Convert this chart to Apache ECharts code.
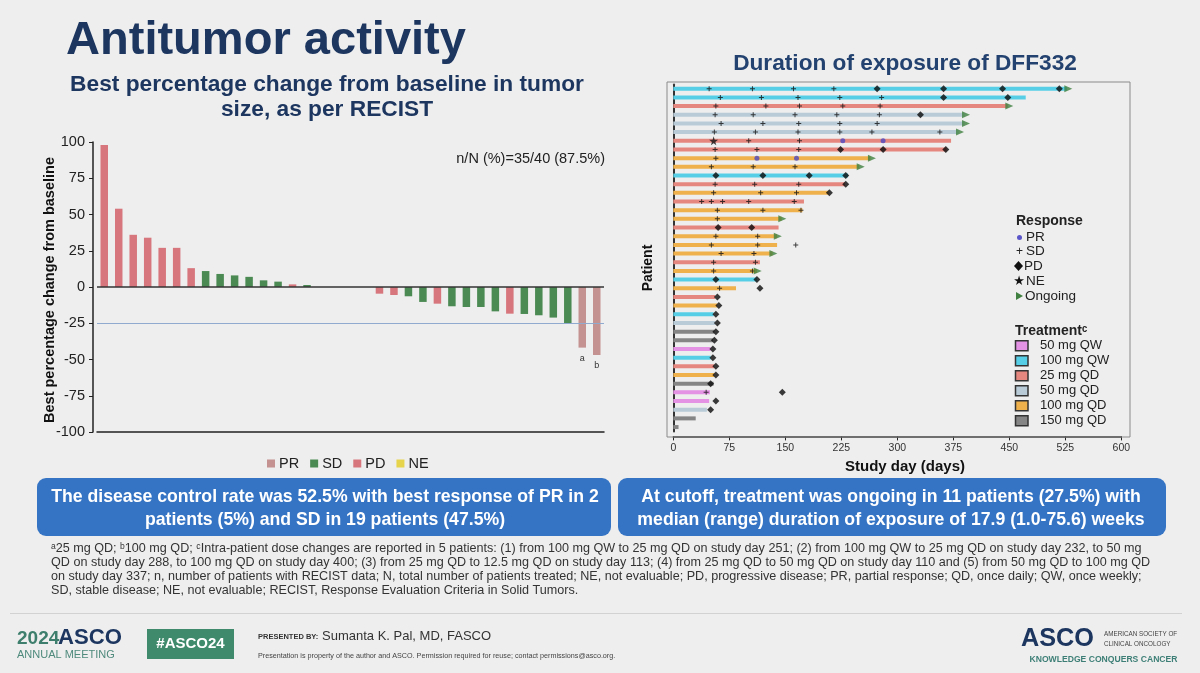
<!DOCTYPE html>
<html><head><meta charset="utf-8">
<script src="https://cdn.jsdelivr.net/npm/echarts@6/dist/echarts.min.js"></script>
<style>html,body{margin:0;padding:0;background:#eeeeee;}#c{width:1200px;height:673px;}</style>
</head><body><div id="c"></div>
<script>
// ---------- Waterfall (best % change) ----------
const wfValues = [98, 54, 36, 34, 27, 27, 13, 11, 9, 8, 7, 4.6, 3.7, 1.8, 1.4, 0, 0, 0, 0,
  -4.6, -5.5, -6.4, -10.3, -11.5, -13.3, -13.8, -13.8, -16.8, -18.4, -18.6, -19.5, -21.1, -25.1, -41.8, -46.9];
const wfResponse = ['PD','PD','PD','PD','PD','PD','PD','SD','SD','SD','SD','SD','SD','PD','SD','SD','SD','PD','PD',
  'PD','PD','SD','SD','PD','SD','SD','SD','SD','PD','SD','SD','SD','SD','PR','PR'];
const wfNotes = ['','','','','','','','','','','','','','','','','','','','','','','','','','','','','','','','','','a','b'];
const wfCategories = wfValues.map((v, i) => 'P' + (i + 1));
const responseTypes = ['PR', 'SD', 'PD', 'NE'];
const yTicks = [-100, -75, -50, -25, 0, 25, 50, 75, 100];

// ---------- Duration of exposure ----------
const treatNames = ['50 mg QW', '100 mg QW', '25 mg QD', '50 mg QD', '100 mg QD', '150 mg QD'];
const rowTreat = ['100 mg QW','100 mg QW','25 mg QD','50 mg QD','50 mg QD','50 mg QD','25 mg QD','25 mg QD',
  '100 mg QD','100 mg QD','100 mg QW','25 mg QD','100 mg QD','25 mg QD','100 mg QD','100 mg QD','25 mg QD',
  '100 mg QD','100 mg QD','100 mg QD','25 mg QD','100 mg QD','100 mg QW','100 mg QD','25 mg QD','100 mg QD',
  '100 mg QW','50 mg QD','150 mg QD','150 mg QD','50 mg QW','100 mg QW','25 mg QD','100 mg QD','150 mg QD',
  '50 mg QW','50 mg QW','50 mg QD','150 mg QD','150 mg QD'];
const durEnd = [527, 472, 448, 390, 390, 382, 372, 366, 264, 249, 234, 230, 208, 175, 173, 145, 141, 139, 139, 133,
  116, 112, 112, 84, 56, 59, 54, 56, 55, 53, 50, 50, 55, 55, 54, 49, 48, 45, 30, 7];
// [patient row, study day]
const sdMarks = [[1,48],[1,106],[1,161],[1,215],[2,63],[2,118],[2,167],[2,223],[2,279],
  [3,57],[3,124],[3,169],[3,227],[3,277],[4,56],[4,107],[4,163],[4,219],[4,276],
  [5,64],[5,120],[5,168],[5,223],[5,273],[6,55],[6,110],[6,167],[6,223],[6,266],[6,357],
  [7,101],[7,169],[8,56],[8,112],[8,168],[9,57],[10,51],[10,107],[10,163],
  [12,56],[12,109],[12,168],[13,54],[13,117],[13,165],[14,38],[14,51],[14,66],[14,101],[14,162],
  [15,59],[15,120],[15,171],[16,59],[18,57],[18,113],[19,51],[19,113],[19,164],
  [20,64],[20,108],[21,54],[21,110],[22,54],[22,106],[24,62],[36,44]];
const pdMarks = [[1,273],[1,362],[1,441],[1,517],[2,362],[2,448],[4,331],[8,224],[8,281],[8,365],
  [11,57],[11,120],[11,182],[11,231],[12,231],[13,209],[17,60],[17,105],[23,57],[23,112],[24,116],
  [25,59],[26,61],[27,57],[28,59],[29,57],[30,55],[31,53],[32,53],[33,57],[34,57],[35,50],
  [36,146],[37,57],[38,50]];
const prMarks = [[7,227],[7,281],[9,112],[9,165]];
const neMarks = [[7,54]];
const ongoingMarks = [[1,529],[3,450],[4,392],[5,392],[6,384],[9,266],[10,251],[16,146],[18,140],[20,134],[22,113]];
const dayTicks = [0, 75, 150, 225, 300, 375, 450, 525, 600];
const rowNames = durEnd.map((v, i) => 'Pt' + (i + 1));

// ---------- styles ----------
const respColors = { PR: '#c49291', SD: '#4b8b53', PD: '#d7767c', NE: '#e6d44c' };
const treatColors = { '50 mg QW': '#e392e4', '100 mg QW': '#56cfe6', '25 mg QD': '#e6877f',
  '50 mg QD': '#b9cbd7', '100 mg QD': '#eeb14c', '150 mg QD': '#858585' };
const ff = "'Liberation Sans', Arial, sans-serif";
const navy = '#1c3660';
const mctx = document.createElement('canvas').getContext('2d');
function fitSize(text, weight, family, width) {
  mctx.font = weight + ' 100px ' + family;
  return 100 * width / mctx.measureText(text).width;
}
function txt(x, y, text, size, o) {
  o = o || {};
  const al = o.align || 'left', va = o.valign || 'middle';
  return { type: 'text', x: x, y: y, rotation: o.rotation || 0, silent: true, z: 10,
    style: { text: text, fill: o.color || '#222', fontSize: size, fontWeight: o.weight || 'normal',
      fontFamily: o.family || ff, align: al, textAlign: al, verticalAlign: va, textVerticalAlign: va } };
}
const toXY = arr => arr.map(d => [d[1], d[0] - 1]);

const titleSize = fitSize('Antitumor activity', 'bold', ff, 400);
const subSize = fitSize('Best percentage change from baseline in tumor', 'bold', ff, 514);
const rtSize = fitSize('Duration of exposure of DFF332', 'bold', ff, 344);
const boxFam = "'Liberation Sans Narrow', 'Liberation Sans', Arial, sans-serif";
const boxSize = fitSize('The disease control rate was 52.5% with best response of PR in 2', 'bold', boxFam, 548);
const foot = [
  '\u1d4325 mg QD; \u1d47100 mg QD; \u1d9cIntra-patient dose changes are reported in 5 patients: (1) from 100 mg QW to 25 mg QD on study day 251; (2) from 100 mg QW to 25 mg QD on study day 232, to 50 mg',
  'QD on study day 288, to 100 mg QD on study day 400; (3) from 25 mg QD to 12.5 mg QD on study day 113; (4) from 25 mg QD to 50 mg QD on study day 110 and (5) from 50 mg QD to 100 mg QD',
  'on study day 337; n, number of patients with RECIST data; N, total number of patients treated; NE, not evaluable; PD, progressive disease; PR, partial response; QD, once daily; QW, once weekly;',
  'SD, stable disease; NE, not evaluable; RECIST, Response Evaluation Criteria in Solid Tumors.'];
const footSize = fitSize(foot[1], 'normal', ff, 1100);
const ascoBig = fitSize('ASCO', 'bold', ff, 73);
const ascoSmall = fitSize('ASCO', 'bold', ff, 64);

const g = [];
// header texts
g.push(txt(66, 41.5, 'Antitumor activity', titleSize, { weight: 'bold', color: navy }));
g.push(txt(327, 85, 'Best percentage change from baseline in tumor', subSize, { weight: 'bold', color: navy, align: 'center' }));
g.push(txt(327, 110, 'size, as per RECIST', subSize, { weight: 'bold', color: navy, align: 'center' }));
g.push(txt(905, 64, 'Duration of exposure of DFF332', rtSize, { weight: 'bold', color: '#24426f', align: 'center' }));
g.push(txt(605, 159, 'n/N (%)=35/40 (87.5%)', 14.5, { align: 'right', color: '#222' }));
g.push(txt(50, 290, 'Best percentage change from baseline', 14.5, { weight: 'bold', align: 'center', rotation: Math.PI / 2, color: '#111' }));
g.push(txt(648, 268, 'Patient', 14, { weight: 'bold', align: 'center', rotation: Math.PI / 2, color: '#111' }));
g.push(txt(905, 467, 'Study day (days)', 15, { weight: 'bold', align: 'center', color: '#111' }));
// right frame
g.push({ type: 'rect', silent: true, z: 1, shape: { x: 667, y: 82, width: 463, height: 355 }, style: { fill: 'none', stroke: '#8a8a8a', lineWidth: 1 } });
// response legend
g.push(txt(1016, 221, 'Response', 14, { weight: 'bold', color: '#222' }));
g.push({ type: 'circle', silent: true, z: 10, shape: { cx: 1019.5, cy: 237.5, r: 2.5 }, style: { fill: '#5a55c8' } });
g.push(txt(1026, 237.5, 'PR', 13.5));
g.push(txt(1019.5, 251.5, '+', 12, { align: 'center' }));
g.push(txt(1026, 251.5, 'SD', 13.5));
g.push({ type: 'polygon', silent: true, z: 10, shape: { points: [[1018.5, 261], [1023, 266], [1018.5, 271], [1014, 266]] }, style: { fill: '#111' } });
g.push(txt(1024, 266, 'PD', 13.5));
g.push(txt(1019, 281.5, '\u2605', 13, { align: 'center', color: '#111', family: 'DejaVu Sans' }));
g.push(txt(1026, 281.5, 'NE', 13.5));
g.push({ type: 'polygon', silent: true, z: 10, shape: { points: [[1016, 292], [1023, 296], [1016, 300]] }, style: { fill: '#3f7f3f' } });
g.push(txt(1025, 296, 'Ongoing', 13.5));
g.push(txt(1015, 331, 'Treatment\u1d9c', 14, { weight: 'bold', color: '#222' }));
treatNames.forEach((n, i) => {
  const cy = 345.7 + i * 15;
  g.push({ type: 'rect', silent: true, z: 10, shape: { x: 1015.5, y: cy - 5, width: 12.5, height: 10 }, style: { fill: treatColors[n], stroke: '#333', lineWidth: 1.5 } });
  g.push(txt(1040, cy, n, 13, { color: '#222' }));
});
// blue boxes
g.push({ type: 'rect', silent: true, z: 5, shape: { x: 37, y: 478, width: 574, height: 58, r: 9 }, style: { fill: '#3574c4' } });
g.push({ type: 'rect', silent: true, z: 5, shape: { x: 618, y: 478, width: 548, height: 58, r: 9 }, style: { fill: '#3574c4' } });
g.push(txt(325, 497, 'The disease control rate was 52.5% with best response of PR in 2', boxSize, { weight: 'bold', color: '#fff', align: 'center', family: boxFam }));
g.push(txt(325, 520, 'patients (5%) and SD in 19 patients (47.5%)', boxSize, { weight: 'bold', color: '#fff', align: 'center', family: boxFam }));
g.push(txt(891, 497, 'At cutoff, treatment was ongoing in 11 patients (27.5%) with', boxSize, { weight: 'bold', color: '#fff', align: 'center', family: boxFam }));
g.push(txt(891, 520, 'median (range) duration of exposure of 17.9 (1.0-75.6) weeks', boxSize, { weight: 'bold', color: '#fff', align: 'center', family: boxFam }));
// footnotes
foot.forEach((l, i) => g.push(txt(51, 549 + i * 14, l, footSize, { color: '#333' })));
// bottom bar
g.push({ type: 'line', silent: true, shape: { x1: 10, y1: 613.5, x2: 1182, y2: 613.5 }, style: { stroke: '#d2d2d2', lineWidth: 1 } });
g.push(txt(17, 639, '2024', 19, { color: '#3d7f6c', weight: 'bold', family: "'Liberation Sans Narrow','Liberation Sans',sans-serif" }));
g.push(txt(58, 638, 'ASCO', ascoSmall, { color: navy, weight: 'bold' }));
g.push(txt(17, 655, 'ANNUAL MEETING', 11, { color: '#4f8a7c', family: "'Liberation Sans Narrow','Liberation Sans',sans-serif" }));
g.push({ type: 'rect', silent: true, shape: { x: 147, y: 629, width: 87, height: 30 }, style: { fill: '#3f8a6c' } });
g.push(txt(190.5, 644, '#ASCO24', 15, { color: '#fff', weight: 'bold', align: 'center' }));
g.push(txt(258, 637, 'PRESENTED BY:', 7.5, { color: '#333', weight: 'bold' }));
g.push(txt(322, 636, 'Sumanta K. Pal, MD, FASCO', 13, { color: '#333', family: "'Liberation Sans Narrow','Liberation Sans',sans-serif" }));
g.push(txt(258, 656, 'Presentation is property of the author and ASCO. Permission required for reuse; contact permissions@asco.org.', 7.2, { color: '#444' }));
g.push(txt(1021, 639, 'ASCO', ascoBig, { color: navy, weight: 'bold' }));
g.push(txt(1104, 634, 'AMERICAN SOCIETY OF', 6.3, { color: '#444' }));
g.push(txt(1104, 644, 'CLINICAL ONCOLOGY', 6.3, { color: '#444' }));
g.push(txt(1103.5, 660, 'KNOWLEDGE CONQUERS CANCER', 8.6, { color: '#3d7f76', weight: 'bold', align: 'center' }));

// ---------- series ----------
const series = responseTypes.map((r, k) => ({
  name: r, type: 'bar', xAxisIndex: 0, yAxisIndex: 0, barWidth: 7.5, barGap: '-100%',
  itemStyle: { color: respColors[r] },
  data: wfValues.map((v, i) => wfResponse[i] === r ? v : '-'),
  label: r === 'PR' ? { show: true, position: 'bottom', distance: 6, fontSize: 9, color: '#333', fontFamily: ff,
    formatter: p => wfNotes[p.dataIndex] } : { show: false },
  markLine: k === 0 ? { silent: true, symbol: 'none', label: { show: false },
    data: [{ yAxis: 0, lineStyle: { color: '#333', width: 1.5, type: 'solid' } },
           { yAxis: -25, lineStyle: { color: '#8fa9cf', width: 1, type: 'solid' } }] } : undefined
}));
series.push({
  name: 'exposure', type: 'bar', xAxisIndex: 1, yAxisIndex: 1, barWidth: 4, silent: true,
  data: durEnd.map((v, i) => ({ value: v, itemStyle: { color: treatColors[rowTreat[i]] } }))
});
const plusPath = 'path://M4,0H6V4H10V6H6V10H4V6H0V4H4Z';
const starPath = 'path://M50,0L61,35H98L68,57L79,91L50,70L21,91L32,57L2,35H39Z';
series.push({ name: 'SD mark', type: 'scatter', xAxisIndex: 1, yAxisIndex: 1, z: 4, symbol: plusPath, symbolSize: 5, itemStyle: { color: '#111' }, data: toXY(sdMarks) });
series.push({ name: 'PD mark', type: 'scatter', xAxisIndex: 1, yAxisIndex: 1, z: 4, symbol: 'diamond', symbolSize: 7, itemStyle: { color: '#0a0a0a' }, data: toXY(pdMarks) });
series.push({ name: 'PR mark', type: 'scatter', xAxisIndex: 1, yAxisIndex: 1, z: 4, symbol: 'circle', symbolSize: 5, itemStyle: { color: '#4d48c0' }, data: toXY(prMarks) });
series.push({ name: 'NE mark', type: 'scatter', xAxisIndex: 1, yAxisIndex: 1, z: 4, symbol: starPath, symbolSize: 9, itemStyle: { color: '#111' }, data: toXY(neMarks) });
series.push({ name: 'Ongoing', type: 'scatter', xAxisIndex: 1, yAxisIndex: 1, z: 4, symbol: 'triangle', symbolRotate: -90, symbolSize: [7, 8], itemStyle: { color: '#3f7f3f' }, data: toXY(ongoingMarks) });

const option = {
  backgroundColor: '#eeeeee',
  animation: false,
  textStyle: { fontFamily: ff },
  legend: { data: responseTypes, left: 262, top: 451, itemWidth: 8, itemHeight: 8, itemGap: 11, icon: 'rect',
    textStyle: { fontSize: 14.5, color: '#222', padding: [0, 0, 0, -1] } },
  grid: [
    { left: 97, top: 142, width: 507, height: 290 },
    { left: 673.3, top: 84.4, width: 448, height: 347 }
  ],
  xAxis: [
    { gridIndex: 0, type: 'category', data: wfCategories, axisLine: { onZero: false, lineStyle: { color: '#222', width: 1.5 } },
      axisTick: { show: false }, axisLabel: { show: false } },
    { gridIndex: 1, type: 'value', min: dayTicks[0], max: dayTicks[dayTicks.length - 1], interval: 75, offset: 5,
      axisLine: { show: true, lineStyle: { color: '#222', width: 1.5 } },
      axisTick: { show: true, length: 4, lineStyle: { color: '#222' } },
      axisLabel: { fontSize: 10.5, color: '#333', margin: 6 }, splitLine: { show: false } }
  ],
  yAxis: [
    { gridIndex: 0, type: 'value', min: yTicks[0], max: yTicks[yTicks.length - 1], interval: 25, offset: 4,
      axisLine: { show: true, lineStyle: { color: '#222', width: 1.5 } },
      axisTick: { show: true, length: 4, lineStyle: { color: '#222' } },
      axisLabel: { fontSize: 14.5, color: '#222', margin: 8 }, splitLine: { show: false } },
    { gridIndex: 1, type: 'category', data: rowNames, inverse: true, offset: 6,
      axisLine: { show: true, lineStyle: { color: '#333', width: 2 } }, axisTick: { show: false }, axisLabel: { show: false } }
  ],
  graphic: { elements: g },
  series: series
};
const chart = echarts.init(document.getElementById('c'), null, { renderer: 'canvas' });
chart.setOption(option);
</script>
</body></html>
